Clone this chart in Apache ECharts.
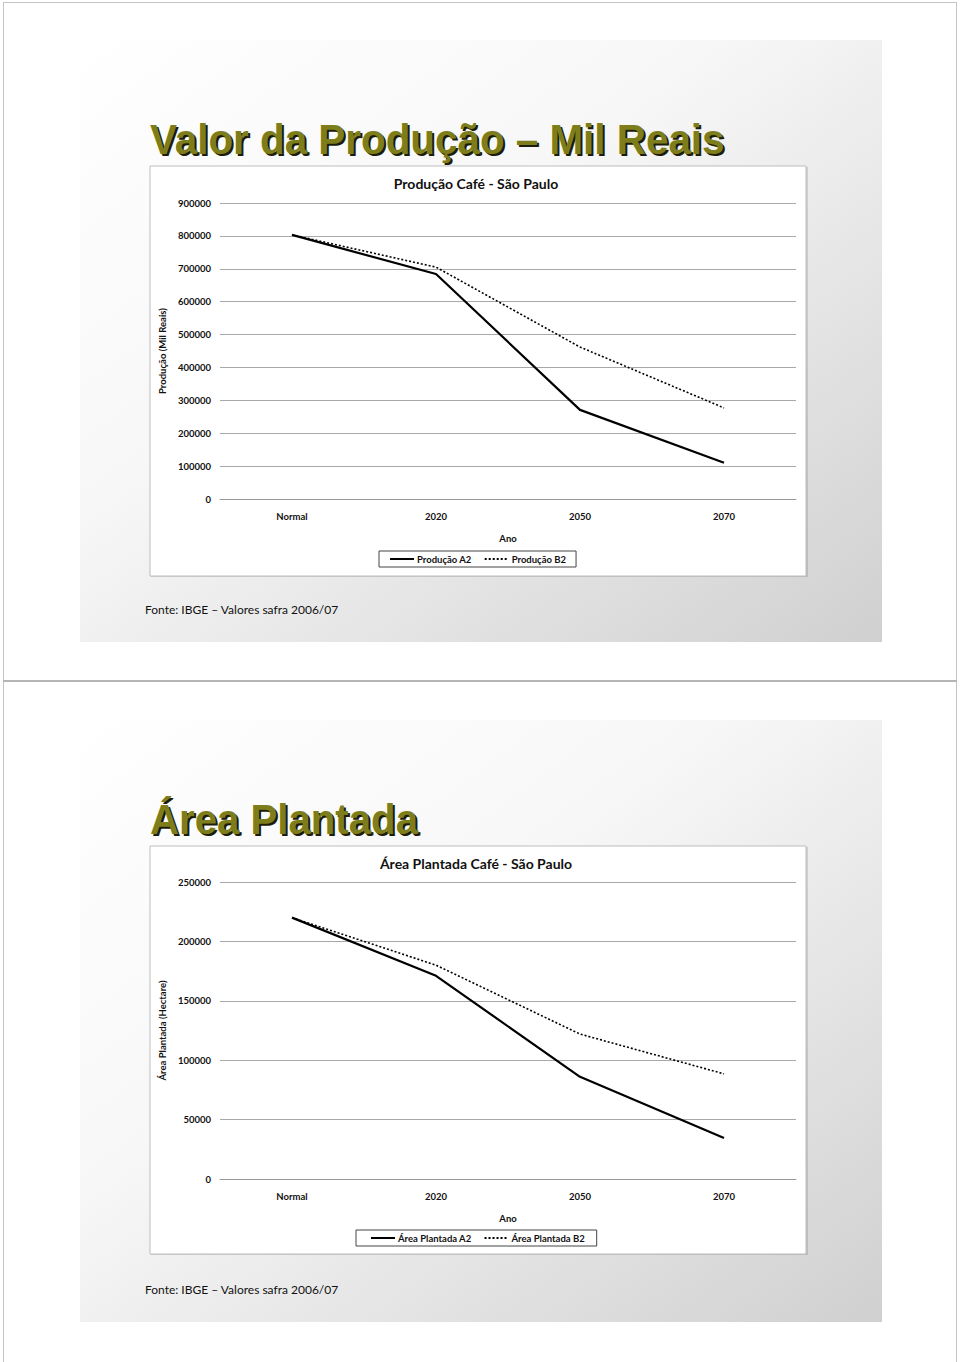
<!DOCTYPE html>
<html>
<head>
<meta charset="utf-8">
<script src="https://cdn.jsdelivr.net/npm/echarts@6/dist/echarts.min.js"></script>
<style>
html,body{margin:0;padding:0;background:#fff;}
#chart{width:960px;height:1362px;}
</style>
</head>
<body>
<div id="chart"></div>
<script>
// ---- Data ----
const categories = ['Normal', '2020', '2050', '2070'];
const producaoA2 = [803000, 684000, 271000, 110000];
const producaoB2 = [803000, 705000, 462000, 277000];
const areaA2 = [220000, 171000, 86000, 34500];
const areaB2 = [220000, 180000, 122000, 88500];
const seriesNames1 = ['Produção A2', 'Produção B2'];
const seriesNames2 = ['Área Plantada A2', 'Área Plantada B2'];
const slideTitle1 = 'Valor da Produção – Mil Reais';
const slideTitle2 = 'Área Plantada';
const chartTitle1 = 'Produção Café - São Paulo';
const chartTitle2 = 'Área Plantada Café - São Paulo';
const yName1 = 'Produção (Mil Reais)';
const yName2 = 'Área Plantada (Hectare)';
const xName = 'Ano';
const sourceText = 'Fonte: IBGE – Valores safra 2006/07';

const chart = echarts.init(document.getElementById('chart'), null, {renderer: 'svg'});

const labelFont = 'Lato, "Open Sans", sans-serif';
const titleFont = 'bold 42px "Liberation Sans", Arial, sans-serif';
const measureCtx = document.createElement('canvas').getContext('2d');
function textWidth(text, font) { measureCtx.font = font; return measureCtx.measureText(text).width; }

const slideGrad = () => new echarts.graphic.LinearGradient(0, 0, 1, 1, [
  {offset: 0, color: '#ffffff'},
  {offset: 0.4, color: '#f7f7f7'},
  {offset: 1, color: '#d0d0d0'}
]);

function slideGraphics(y0, title, titleTargetW, chartTitle, chartBoxH) {
  const sx = titleTargetW / textWidth(title, titleFont);
  const titleText = (dx, dy, fill, z) => ({
    type: 'text', z: z, x: 150 + dx, y: y0 + 121 + dy, scaleX: sx, originX: 0,
    style: {text: title, fill: fill, font: titleFont, textVerticalAlign: 'bottom'}
  });
  return [
    {type: 'rect', z: -100, shape: {x: 80, y: y0, width: 802, height: 602}, style: {fill: slideGrad()}},
    {type: 'rect', z: -95, shape: {x: 151, y: y0 + 127, width: 657, height: chartBoxH},
     style: {fill: 'rgba(0,0,0,0.12)'}},
    {type: 'rect', z: -90, shape: {x: 150, y: y0 + 126, width: 656, height: chartBoxH},
     style: {fill: '#ffffff', stroke: '#bdbdbd', lineWidth: 1}},
    titleText(2, 2, '#1c1c08', 49),
    titleText(0, 0, '#7d7d1c', 50),
    {type: 'text', z: 50, x: 476, y: y0 + 143,
     style: {text: chartTitle, fill: '#111', font: 'bold 14px ' + labelFont, textAlign: 'center', textVerticalAlign: 'middle'}},
    {type: 'text', z: 50, x: 145, y: y0 + 569,
     style: {text: sourceText, fill: '#111', font: '12px ' + labelFont, textVerticalAlign: 'middle'}}
  ];
}

const plainNum = v => String(v);

const legendBase = {
  itemWidth: 24, itemHeight: 8, itemGap: 12,
  borderColor: '#444', borderWidth: 1, backgroundColor: '#fff',
  itemStyle: {opacity: 0},
  textStyle: {fontSize: 9.5, fontWeight: 'bold', fontFamily: labelFont, color: '#111', padding: [0, 0, 0, -2]}
};

const option = {
  animation: false,
  backgroundColor: '#ffffff',
  graphic: [
    {type: 'line', z: -100, shape: {x1: 3.5, y1: 2.5, x2: 956.5, y2: 2.5}, style: {stroke: '#c4c4c4', lineWidth: 1}},
    {type: 'line', z: -100, shape: {x1: 3.5, y1: 2, x2: 3.5, y2: 1362}, style: {stroke: '#c4c4c4', lineWidth: 1}},
    {type: 'line', z: -100, shape: {x1: 956.5, y1: 2, x2: 956.5, y2: 1362}, style: {stroke: '#c4c4c4', lineWidth: 1}},
    {type: 'line', z: -100, shape: {x1: 3, y1: 681, x2: 957, y2: 681}, style: {stroke: '#b4b4b4', lineWidth: 2}},
    ...slideGraphics(40, slideTitle1, 575, chartTitle1, 410),
    ...slideGraphics(720, slideTitle2, 268, chartTitle2, 408)
  ],
  grid: [
    {left: 220, right: 164, top: 203, bottom: 863},
    {left: 220, right: 164, top: 882, bottom: 183}
  ],
  legend: [
    Object.assign({data: seriesNames1, left: 379, top: 551, padding: [3, 10, 3, 10]}, legendBase),
    Object.assign({data: seriesNames2, left: 356, top: 1230, padding: [3, 12, 3, 14]}, legendBase)
  ],
  xAxis: [0, 1].map(i => ({
    type: 'category', gridIndex: i, data: categories, boundaryGap: true,
    name: xName, nameLocation: 'middle', nameGap: 34,
    nameTextStyle: {fontSize: 9.5, fontWeight: 'bold', fontFamily: labelFont, color: '#111'},
    axisLine: {lineStyle: {color: '#9a9a9a', width: 1}},
    axisTick: {show: false},
    axisLabel: {fontSize: 9.5, fontWeight: 'bold', fontFamily: labelFont, color: '#111', margin: 12}
  })),
  yAxis: [
    {type: 'value', gridIndex: 0, min: 0, max: 900000, interval: 100000,
     name: yName1, nameLocation: 'middle', nameGap: 52,
     nameTextStyle: {fontSize: 9.5, fontWeight: 'bold', fontFamily: labelFont, color: '#111'},
     axisLine: {show: false}, axisTick: {show: false},
     axisLabel: {fontSize: 9.5, fontWeight: 'bold', fontFamily: labelFont, color: '#111', margin: 9, formatter: plainNum},
     splitLine: {lineStyle: {color: '#a8a8a8', width: 1}}},
    {type: 'value', gridIndex: 1, min: 0, max: 250000, interval: 50000,
     name: yName2, nameLocation: 'middle', nameGap: 52,
     nameTextStyle: {fontSize: 9.5, fontWeight: 'bold', fontFamily: labelFont, color: '#111'},
     axisLine: {show: false}, axisTick: {show: false},
     axisLabel: {fontSize: 9.5, fontWeight: 'bold', fontFamily: labelFont, color: '#111', margin: 9, formatter: plainNum},
     splitLine: {lineStyle: {color: '#a8a8a8', width: 1}}}
  ],
  series: [
    {name: seriesNames1[0], type: 'line', xAxisIndex: 0, yAxisIndex: 0, data: producaoA2, symbol: 'none',
     lineStyle: {color: '#000', width: 2.2, type: 'solid'}, itemStyle: {color: '#000'}},
    {name: seriesNames1[1], type: 'line', xAxisIndex: 0, yAxisIndex: 0, data: producaoB2, symbol: 'none',
     lineStyle: {color: '#000', width: 1.6, type: [2, 2]}, itemStyle: {color: '#000'}},
    {name: seriesNames2[0], type: 'line', xAxisIndex: 1, yAxisIndex: 1, data: areaA2, symbol: 'none',
     lineStyle: {color: '#000', width: 2.2, type: 'solid'}, itemStyle: {color: '#000'}},
    {name: seriesNames2[1], type: 'line', xAxisIndex: 1, yAxisIndex: 1, data: areaB2, symbol: 'none',
     lineStyle: {color: '#000', width: 1.6, type: [2, 2]}, itemStyle: {color: '#000'}}
  ]
};
chart.setOption(option);
</script>
</body>
</html>
